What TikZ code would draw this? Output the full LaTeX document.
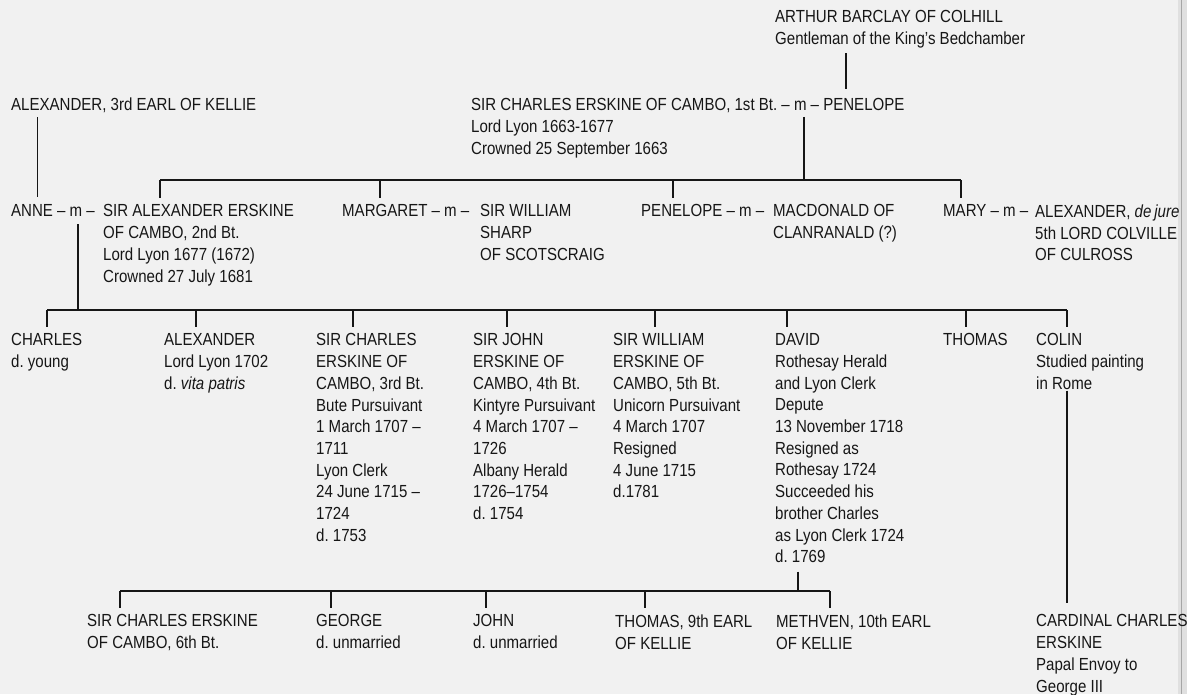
\documentclass[tikz,border=0pt]{standalone}
\usepackage{fontspec}
\setmainfont[FakeStretch=0.86]{Liberation Sans}
\definecolor{paper}{HTML}{F1F1F1}
\definecolor{ink}{HTML}{161616}
\tikzset{every node/.style={anchor=north west,inner sep=0pt,align=left,text=ink}}
\tikzset{tree/.style={draw=ink,line width=1.7pt}}
\tikzset{tick/.style={tree,shorten >=6.5pt}}

\begin{document}
\begin{tikzpicture}[x=1pt,y=-1pt,font=\fontsize{17.5}{21.7}\selectfont\frenchspacing]
      \fill[paper] (0,0) rectangle (1187,694);
      \useasboundingbox (0,0) rectangle (1187,694);
      \fill[black!12] (1178,0) rectangle (1187,694);
      \draw[black!35,line width=1pt] (1181.5,0) -- (1181.5,694);

      \node (arthur) at (775,10.5) {ARTHUR BARCLAY OF COLHILL\\Gentleman of the King's Bedchamber};
      \node (kellie) at (11,98) {ALEXANDER, 3rd EARL OF KELLIE};
      \node (cambo1) at (471,98) {SIR CHARLES ERSKINE OF CAMBO, 1st Bt. -- m -- PENELOPE};
      \node (lyon1) at (471,119.7) {Lord Lyon 1663-1677\\Crowned 25 September 1663};

      \node (anne) at (11,204.5) {ANNE -- m --};
      \node (cambo2) at (103,204.5) {SIR ALEXANDER ERSKINE\\OF CAMBO, 2nd Bt.\\Lord Lyon 1677 (1672)\\Crowned 27 July 1681};
      \node (margaret) at (342,204.5) {MARGARET -- m --};
      \node (sharp) at (480,204.5) {SIR WILLIAM\\SHARP\\OF SCOTSCRAIG};
      \node (penelope) at (641,204.5) {PENELOPE -- m --};
      \node (macdonald) at (773,204.5) {MACDONALD OF\\CLANRANALD (?)};
      \node (mary) at (943,204.5) {MARY -- m --};
      \node (colville) at (1035,204.5) {ALEXANDER, \textit{de\,jure}\\5th LORD COLVILLE\\OF CULROSS};

      \node (charles) at (11,333.5) {CHARLES\\d. young};
      \node (alexander) at (164,333.5) {ALEXANDER\\Lord Lyon 1702\\d. \textit{vita patris}};
      \node (cambo3) at (316,333.5) {SIR CHARLES\\ERSKINE OF\\CAMBO, 3rd Bt.\\Bute Pursuivant\\1 March 1707 --\\1711\\Lyon Clerk\\24 June 1715 --\\1724\\d. 1753};
      \node (cambo4) at (473,333.5) {SIR JOHN\\ERSKINE OF\\CAMBO, 4th Bt.\\Kintyre Pursuivant\\4 March 1707 --\\1726\\Albany Herald\\1726--1754\\d. 1754};
      \node (cambo5) at (613,333.5) {SIR WILLIAM\\ERSKINE OF\\CAMBO, 5th Bt.\\Unicorn Pursuivant\\4 March 1707\\Resigned\\4 June 1715\\d.1781};
      \node (david) at (775,333.5) {DAVID\\Rothesay Herald\\and Lyon Clerk\\Depute\\13 November 1718\\Resigned as\\Rothesay 1724\\Succeeded his\\brother Charles\\as Lyon Clerk 1724\\d. 1769};
      \node (thomas) at (943,333.5) {THOMAS};
      \node (colin) at (1036,333.5) {COLIN\\Studied painting\\in Rome};

      \node (cambo6) at (87,614.5) {SIR CHARLES ERSKINE\\OF CAMBO, 6th Bt.};
      \node (george) at (316,614.5) {GEORGE\\d. unmarried};
      \node (john) at (473,614.5) {JOHN\\d. unmarried};
      \node (earl9) at (615,614.5) {THOMAS, 9th EARL\\OF KELLIE};
      \node (earl10) at (776,614.5) {METHVEN, 10th EARL\\OF KELLIE};
      \node (cardinal) at (1036,614.5) {CARDINAL CHARLES\\ERSKINE\\Papal Envoy to\\George III};

      \coordinate (pa) at (846,0);
      \coordinate (pk) at (37.5,0);
      \draw[tree,shorten <=5pt,shorten >=9pt] (arthur.south -| pa) -- (cambo1.north -| pa);
      \draw[tree,shorten <=4pt,shorten >=7.5pt] (kellie.south -| pk) -- (anne.north -| pk);

      \coordinate (b1) at (160,180);
      \coordinate (b1e) at (961,180);
      \coordinate (j1) at (804,180);
      \draw[tree] (b1) -- (b1e);
      \draw[tree,shorten <=4pt] (cambo1.south -| j1) -- (j1);
      \foreach \x/\n in {160/cambo2,380/margaret,673/penelope,961/mary}
        {\coordinate (t) at (\x,180); \draw[tick] (t) -- (t |- \n.north);}

      \coordinate (b2) at (47,310);
      \coordinate (b2e) at (1067,310);
      \coordinate (j2) at (78,310);
      \draw[tree] (b2) -- (b2e);
      \draw[tree,shorten <=7.5pt] (anne.south -| j2) -- (j2);
      \foreach \x/\n in {47/charles,196/alexander,353/cambo3,507/cambo4,655/cambo5,787/david,966/thomas,1067/colin}
        {\coordinate (t) at (\x,310); \draw[tick] (t) -- (t |- \n.north);}
      \draw[tree,shorten <=1pt,shorten >=11.5pt] (colin.south -| b2e) -- (cardinal.north -| b2e);

      \coordinate (b3) at (120,591);
      \coordinate (b3e) at (830,591);
      \coordinate (j3) at (798,591);
      \draw[tree] (b3) -- (b3e);
      \draw[tree,shorten <=8.5pt] (david.south -| j3) -- (j3);
      \foreach \x/\n in {120/cambo6,331/george,486/john,645/earl9,830/earl10}
        {\coordinate (t) at (\x,591); \draw[tick] (t) -- (t |- \n.north);}
    \end{tikzpicture}
\end{document}
